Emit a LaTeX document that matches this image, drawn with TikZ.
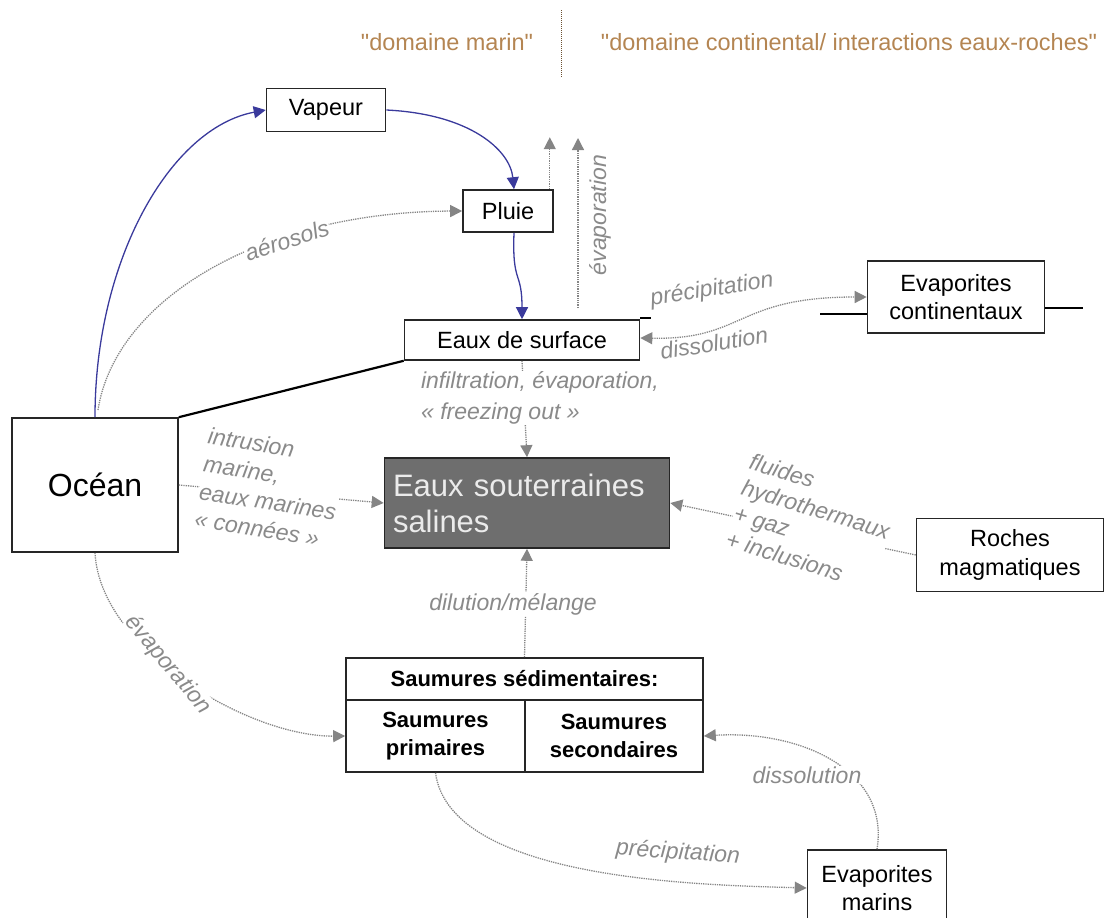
\documentclass[tikz,border=0pt]{standalone}
\usepackage{fontspec}
\setmainfont{Liberation Sans}
\usetikzlibrary{arrows.meta}
\definecolor{flowgray}{HTML}{858585}
\definecolor{lblgray}{HTML}{8A8A8A}
\definecolor{cyclblue}{HTML}{3A3A9C}
\definecolor{domtan}{HTML}{B48552}
\definecolor{nappe}{HTML}{6E6E6E}
\tikzset{
  box/.style={draw=black!85, line width=1.6pt, fill=white, inner sep=2pt, align=center, font=\fontsize{23.5}{27}\selectfont},
  flow/.style={draw=flowgray, densely dotted, line width=1.3pt, -{Triangle[length=12pt,width=12pt]}},
  bluearrow/.style={draw=cyclblue, line width=1.3pt, -{Triangle[length=12pt,width=12pt]}},
  lbl/.style={text=lblgray, font=\itshape\fontsize{23}{29}\selectfont, inner sep=1pt},
  dom/.style={text=domtan, font=\fontsize{23.5}{27}\selectfont}
}
\begin{document}
\begin{tikzpicture}[x=1pt, y=-1pt]
  \useasboundingbox (0,0) rectangle (1112,918);
  % domaines
  \node[dom] (marin) at (447,42) {\textquotedbl domaine marin\textquotedbl};
  \node[dom] (contin) at (849,42) {\textquotedbl domaine continental/ interactions eaux-roches\textquotedbl};
  \coordinate (sepTop) at (561,10);
  \coordinate (sepBot) at (561,78);
  \draw[domtan!60!black, densely dotted, line width=1pt] (sepTop) -- (sepBot);
  % boites
  \node[box, minimum width=119pt, minimum height=43pt] (vap) at (326,110) {Vapeur};
  \node[box, minimum width=90pt, minimum height=42pt] (pluie) at (508,211) {Pluie};
  \node[box, minimum width=235pt, minimum height=40pt] (surf) at (522,340) {Eaux de surface};
  \node[box, minimum width=177pt, minimum height=72pt, font=\fontsize{23.5}{28}\selectfont] (evc) at (956,297) {Evaporites\\continentaux};
  \node[box, minimum width=166pt, minimum height=134pt, font=\fontsize{32}{36}\selectfont] (ocean) at (95,485) {Océan};
  \node[box, fill=nappe, text=white!92!black, minimum width=285pt, minimum height=90pt,
        text width=268pt, align=left, font=\fontsize{31}{36}\selectfont] (nappe) at (527,503) {Eaux souterraines\\salines};
  \node[box, minimum width=187pt, minimum height=73pt, font=\fontsize{23.5}{29}\selectfont] (roches) at (1010,555) {Roches\\magmatiques};
  \node[box, minimum width=357pt, minimum height=42pt, font=\bfseries\fontsize{22}{26}\selectfont] (sed) at (524.5,679) {Saumures sédimentaires:};
  \node[box, minimum width=179pt, minimum height=72pt, font=\bfseries\fontsize{22}{28}\selectfont] (prim) at (435.5,736) {Saumures\\primaires};
  \node[box, minimum width=178pt, minimum height=72pt, font=\bfseries\fontsize{22}{28}\selectfont] (sec) at (614,736) {Saumures\\secondaires};
  \node[box, minimum width=139pt, minimum height=76pt, font=\fontsize{23.5}{28}\selectfont] (evm) at (877,888) {Evaporites\\marins};
  % traits noirs
  \draw[line width=2.2pt] (ocean.north east) -- (surf.south west);
  \draw[line width=2.2pt] ([yshift=1pt]surf.north east) -- ++(11,0);
  \coordinate (evcL) at (820,314);
  \coordinate (evcR) at (1083,308);
  \draw[line width=2.2pt] (evcL) -- (evcL -| evc.west);
  \draw[line width=2.2pt] (evc.east |- evcR) -- (evcR);
  % cycle de l'eau
  \draw[bluearrow] (ocean.north) .. controls (95,260) and (170,128) .. (vap.west);
  \draw[bluearrow] (vap.east) .. controls (470,114) and (510,150) .. ([xshift=6pt]pluie.north);
  \draw[bluearrow] ([xshift=6pt]pluie.south) .. controls (512,285) and (522,270) .. (surf.north);
  % flux
  \coordinate (aeroStart) at (98,410);
  \draw[flow] (aeroStart) .. controls (115,300) and (260,212) .. (pluie.west);
  \node[lbl, fill=white, rotate=18] (aero) at (287,240) {aérosols};
  \draw[flow] ([xshift=-4pt]pluie.north east) -- ++(0,-52);
  \coordinate (evapBase) at (578,308);
  \draw[flow] (evapBase) -- ++(0,-170);
  \node[lbl, rotate=90] (evapLbl) at (600,215) {évaporation};
  \draw[densely dotted, draw=flowgray, line width=1.3pt, {Triangle[length=12pt,width=12pt]}-{Triangle[length=12pt,width=12pt]}]
        ([yshift=2pt]surf.east) .. controls (745,340) and (735,297) .. (evc.west);
  \node[lbl, rotate=9] (precC) at (712,290) {précipitation};
  \node[lbl, rotate=9] (dissC) at (714,343) {dissolution};
  \draw[flow] (surf.south) -- (nappe.north);
  \node[lbl, fill=white, align=left, font=\itshape\fontsize{23}{31}\selectfont] (infil) at (540,398) {infiltration, évaporation,\\« freezing out »};
  \draw[flow] (ocean.east) -- (nappe.west);
  \node[lbl, fill=white, align=left, rotate=-9, font=\itshape\fontsize{23}{28}\selectfont] (intru) at (270,488) {intrusion\\marine,\\eaux marines\\« connées »};
  \draw[flow] (roches.west) -- (nappe.east);
  \node[lbl, fill=white, align=left, rotate=-17, font=\itshape\fontsize{23}{27}\selectfont] (fluid) at (812,522) {fluides\\hydrothermaux\\+ gaz\\+ inclusions};
  \draw[flow] (sed.north) -- (nappe.south);
  \node[lbl, fill=white] (dilu) at (513,604) {dilution/mélange};
  \draw[flow] (ocean.south) .. controls (100,650) and (250,737) .. (prim.west);
  \node[lbl, fill=white, rotate=-50] (evapO) at (168,665) {évaporation};
  \draw[flow] (prim.south) .. controls (450,880) and (700,885) .. (evm.west);
  \node[lbl, rotate=-4] (precM) at (678,853) {précipitation};
  \draw[flow] (evm.north) .. controls (890,770) and (800,730) .. (sec.east);
  \node[lbl, fill=white] (dissM) at (807,775) {dissolution};
\end{tikzpicture}
\end{document}
